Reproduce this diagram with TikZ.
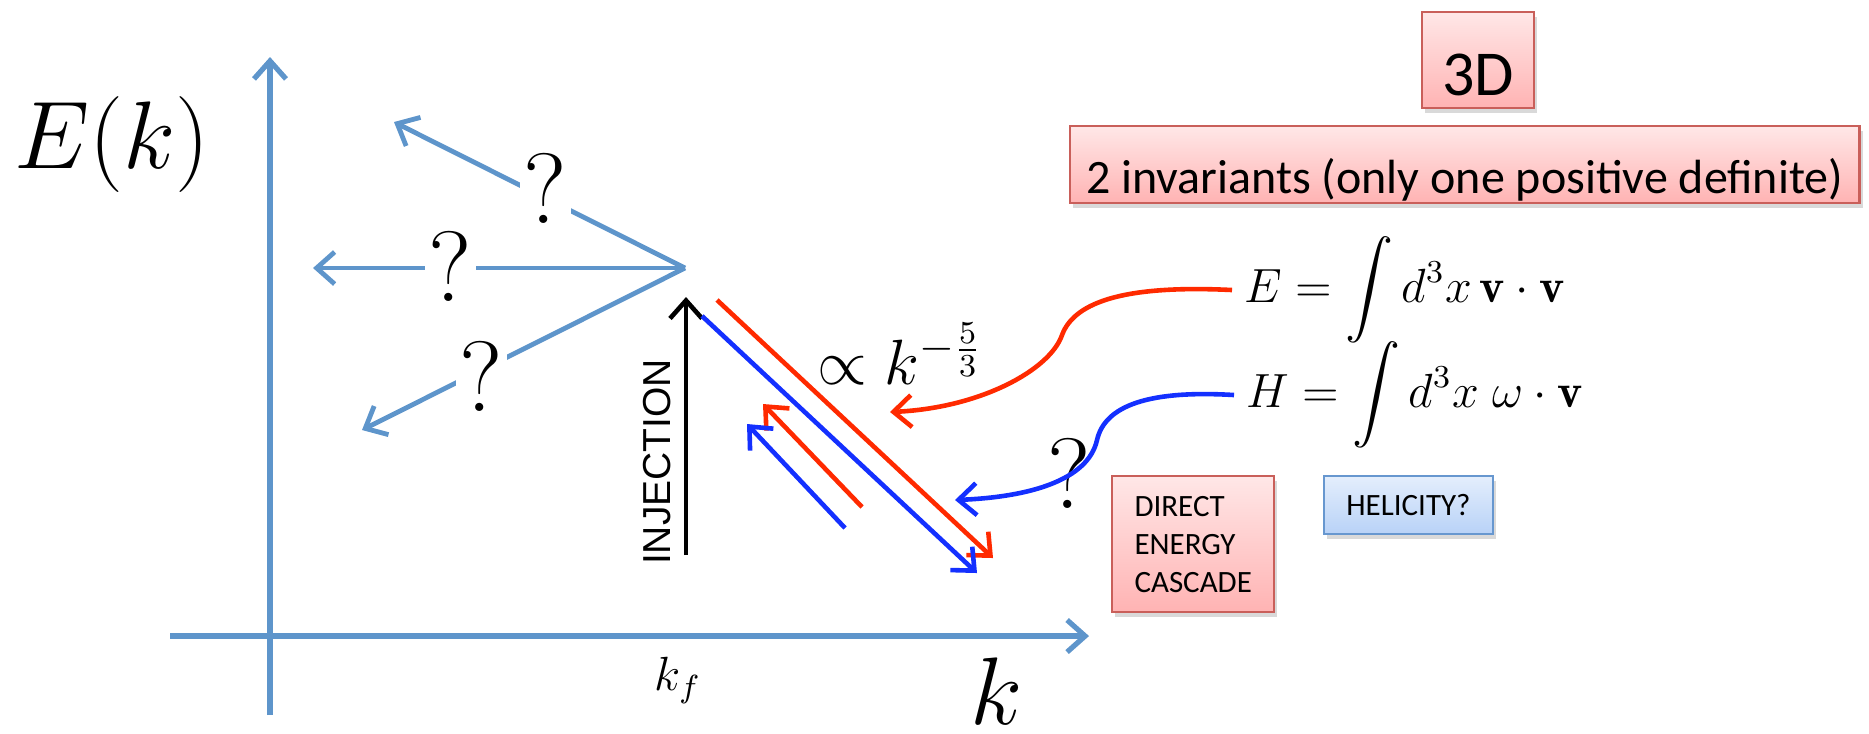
\RequirePackage{fix-cm}
\documentclass[tikz,border=0pt]{standalone}
\usepackage{amsmath,amssymb}
\usepackage{fontspec}
\newfontfamily\calibri{Carlito}
\newfontfamily\arial{Liberation Sans}
\usepackage{tikz}
\usetikzlibrary{positioning,calc,arrows.meta,shadows}
\definecolor{axc}{HTML}{5E95CB}
\definecolor{enc}{HTML}{FF2A00}
\definecolor{helc}{HTML}{1430FF}
\definecolor{pinkline}{HTML}{C95F5A}
\definecolor{pinktop}{HTML}{FFE7E7}
\definecolor{pinkbot}{HTML}{FFB3B3}
\definecolor{bluline}{HTML}{6797CF}
\definecolor{blutop}{HTML}{E4EEFC}
\definecolor{blubot}{HTML}{B8D2F7}
\tikzset{
  barb/.style={-{Straight Barb[length=4.5pt,width=8pt]}},
  axisline/.style={axc, line width=1.3pt, barb},
  cline/.style={line width=1.15pt},
  qmark/.style={fill=white, text=black, inner sep=1pt, font=\fontsize{25}{28}\selectfont},
  boxshadow/.style={drop shadow={shadow xshift=0.8pt, shadow yshift=-1.3pt, opacity=0.3}},
  pinkbox/.style={draw=pinkline, line width=0.6pt, top color=pinktop, bottom color=pinkbot, boxshadow},
  bluebox/.style={draw=bluline, line width=0.6pt, top color=blutop, bottom color=blubot, boxshadow}
}

\begin{document}
\begin{tikzpicture}[x=0.25pt, y=-0.25pt]
  \useasboundingbox (0,0) rectangle (1869,733);
  % axes
  \coordinate (xstart) at (170,636);
  \coordinate (xend) at (1089,636);
  \coordinate (ystart) at (270,715);
  \coordinate (yend) at (270,57);
  \draw[axisline] (xstart) -- (xend);
  \draw[axisline] (ystart) -- (yend);
  \node[anchor=base, font=\fontsize{24}{28}\selectfont] (Elab) at (112,168) {$E(k)$};
  \node[anchor=base, font=\fontsize{24}{28}\selectfont, inner sep=0pt] (klab) at (997,724) {$k$};
  \node[anchor=base, font=\fontsize{12}{14}\selectfont] (kf) at (678,690) {$k_f$};
  % inverse transfer, unknown
  \coordinate (apex) at (685,268);
  \coordinate (tipup) at (394,122);
  \coordinate (tipmid) at (313,268);
  \coordinate (tiplow) at (362,430);
  \foreach \n/\p/\s in {up/0.48/2.5pt, mid/0.63/0.5pt, low/0.63/-1.5pt}
     \draw[axisline, line width=1.2pt] (apex) -- (tip\n) node[qmark, pos=\p, yshift=\s] (q\n) {?};
  % injection
  \coordinate (injfoot) at (686,555);
  \coordinate (injtop) at (686,297);
  \draw[cline, barb, black] (injfoot) -- (injtop);
  \node[rotate=90, font=\arial\fontsize{9.75}{10}\selectfont] (inj) at (657,462) {INJECTION};
  % direct and inverse fluxes
  \coordinate (enstart) at (717,300);
  \coordinate (enend) at (993,558);
  \coordinate (helstart) at (702,316);
  \coordinate (helend) at (977,573);
  \coordinate (enback) at (862,507);
  \coordinate (enbacktip) at (763,404);
  \coordinate (helback) at (845,528);
  \coordinate (helbacktip) at (747,424);
  \draw[cline, barb, enc] (enstart) -- (enend);
  \draw[cline, barb, helc] (helstart) -- (helend);
  \draw[cline, barb, enc] (enback) -- (enbacktip);
  \draw[cline, barb, helc] (helback) -- (helbacktip);
  \node[anchor=base, inner sep=1pt, font=\fontsize{16}{18}\selectfont] (slope) at (900,384) {$\propto k^{-\frac{5}{3}}$};
  % invariants
  \node[anchor=base west, inner sep=3pt, font=\fontsize{12}{14}\selectfont] (Eeq) at (1232,302)
     {$E = \displaystyle\int d^3x\,\mathbf{v}\cdot\mathbf{v}$};
  \node[anchor=base west, inner sep=3pt, font=\fontsize{12}{14}\selectfont] (Heq) at (1234,407)
     {$H = \displaystyle\int d^3x\;\omega\cdot\mathbf{v}$};
  \node[anchor=base, font=\fontsize{25}{28}\selectfont] (qhel) at (1069,508) {?};
  \coordinate (entip) at (890,412);
  \coordinate (heltip) at (955,500);
  \draw[cline, barb, enc] (Eeq.west) .. controls (1130,285) and (1075,300) .. (1062,335)
     .. controls (1050,370) and (980,408) .. (entip);
  \draw[cline, barb, helc] (Heq.west) .. controls (1150,390) and (1105,405) .. (1097,440)
     .. controls (1088,480) and (1030,497) .. (heltip);
  % labels
  \node[pinkbox, anchor=base, inner sep=0pt, minimum width=28pt, text height=20.75pt, text depth=3.25pt,
     font=\calibri\fontsize{16}{16}\selectfont] (dim) at (1478,95) {3D};
  \node[pinkbox, anchor=base west, inner xsep=4pt, inner ysep=0pt, text height=16.75pt, text depth=2.5pt,
     font=\calibri\fontsize{12}{14}\selectfont] (invar) at (1069,193) {2 invariants (only one positive definite)};
  \node[pinkbox, anchor=north west, align=left, inner sep=0pt, minimum width=40.5pt, minimum height=34pt,
     font=\calibri\fontsize{7.75}{9.5}\selectfont] (direct) at (1111,475) {DIRECT\\ENERGY\\CASCADE};
  \node[bluebox, inner sep=0pt, minimum width=42.25pt, minimum height=14.5pt,
     font=\calibri\fontsize{7.75}{9.5}\selectfont] (heli) at (1408.5,505) {HELICITY?};
\end{tikzpicture}
\end{document}
